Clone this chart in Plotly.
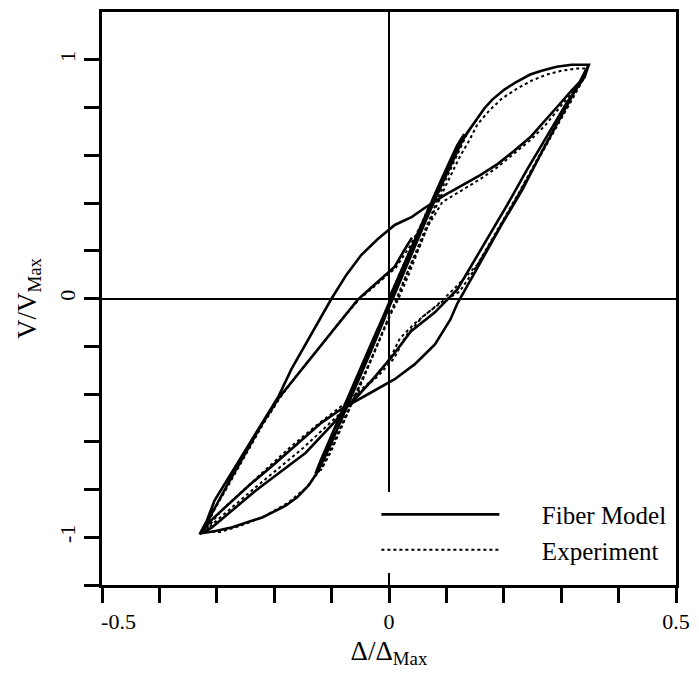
import plotly.graph_objects as go

# ---- Fiber model (solid): normalised displacement / normalised shear ----
# None separates two branches of the model record
model_x = [
    # small cycle, then loading to the positive peak
    0.000, 0.016, 0.042, 0.067, 0.093, 0.116, 0.131,
    0.119, 0.097, 0.071, 0.047, 0.024, 0.007, -0.010, -0.033, -0.057, -0.080, -0.100, -0.119, -0.128,
    -0.114, -0.093, -0.071, -0.048, -0.026, -0.003, 0.019, 0.043, 0.067, 0.090, 0.111, 0.128, 0.142,
    0.166, 0.180, 0.201, 0.220, 0.246, 0.266, 0.292, 0.318, 0.348,
    # unloading along right line, pinched branch, thin loop
    0.327, 0.301, 0.266, 0.232, 0.197, 0.163, 0.137, 0.119, 0.107, 0.080, 0.045, 0.010, -0.036, -0.083,
    -0.118, -0.157, -0.201, -0.244, -0.282, -0.310, -0.327,
    # bottom branch, steep reloading, upper branch
    -0.304, -0.273, -0.221, -0.180, -0.160, -0.140, -0.124, -0.104, -0.080, -0.057, -0.033, -0.010,
    0.010, 0.033, 0.055, 0.080, 0.102, 0.123, 0.142,
    0.166, 0.180, 0.201, 0.220, 0.246, 0.266, 0.292, 0.318, 0.348,
    # middle diagonal and rounded branch
    0.341, 0.318, 0.292, 0.266, 0.246, 0.215, 0.189, 0.159, 0.131, 0.097, 0.062, 0.040, 0.010,
    -0.019, -0.048, -0.074, -0.100, -0.123, -0.145, -0.170, -0.192, -0.235, -0.273, -0.304, -0.317, -0.330,
    # diagonal reloading
    -0.322, -0.306, -0.282, -0.253, -0.223, -0.192, -0.157, -0.123, -0.088, -0.054, -0.019, 0.010,
    0.026, 0.040, None,
    # second unloading
    0.341, 0.310, 0.275, 0.240, 0.206, 0.171, 0.140, 0.119, 0.102, 0.080, 0.038, 0.003, -0.028, -0.054,
    -0.083, -0.093, -0.145, -0.232, -0.308, -0.325,
]
model_y = [
    0.000, 0.088, 0.233, 0.371, 0.508, 0.621, 0.688,
    0.642, 0.529, 0.383, 0.246, 0.121, 0.021, -0.075, -0.200, -0.333, -0.458, -0.575, -0.679, -0.733,
    -0.671, -0.563, -0.438, -0.313, -0.188, -0.054, 0.071, 0.204, 0.342, 0.467, 0.579, 0.663, 0.713,
    0.796, 0.833, 0.875, 0.904, 0.938, 0.954, 0.971, 0.979, 0.979,
    0.883, 0.767, 0.613, 0.454, 0.313, 0.167, 0.058, -0.021, -0.088, -0.192, -0.275, -0.338, -0.400, -0.463,
    -0.521, -0.604, -0.696, -0.783, -0.867, -0.929, -0.983,
    -0.975, -0.958, -0.917, -0.868, -0.833, -0.783, -0.725, -0.625, -0.492, -0.367, -0.229, -0.096,
    0.029, 0.163, 0.296, 0.433, 0.550, 0.650, 0.713,
    0.796, 0.833, 0.875, 0.904, 0.938, 0.954, 0.971, 0.979, 0.979,
    0.929, 0.871, 0.800, 0.729, 0.675, 0.613, 0.563, 0.517, 0.479, 0.433, 0.379, 0.342, 0.308,
    0.250, 0.183, 0.100, 0.000, -0.096, -0.192, -0.296, -0.408, -0.575, -0.721, -0.846, -0.929, -0.988,
    -0.963, -0.888, -0.783, -0.658, -0.533, -0.417, -0.313, -0.208, -0.104, -0.004, 0.071, 0.133,
    0.200, 0.255, None,
    0.929, 0.821, 0.679, 0.538, 0.392, 0.250, 0.121, 0.038, -0.004, -0.058, -0.138, -0.250, -0.338, -0.408,
    -0.479, -0.513, -0.646, -0.804, -0.958, -0.983,
]

# ---- Experiment (dotted) ----
exp_x = [
    0.000, 0.019, 0.043, 0.067, 0.095, 0.119, 0.137,
    0.123, 0.100, 0.076, 0.052, 0.031, 0.016, -0.002, -0.024, -0.048, -0.071, -0.092, -0.109, -0.119,
    -0.102, -0.081, -0.059, -0.036, -0.014, 0.009, 0.029, 0.054, 0.078, 0.102, 0.123, 0.140,
    0.154, 0.175, 0.197, 0.223, 0.249, 0.275, 0.301, 0.327, 0.344,
    0.324, 0.296, 0.263, 0.227, 0.192, 0.168, 0.154, 0.114, 0.085, 0.045, 0.019, 0.002, -0.028, -0.071,
    -0.123, -0.175, -0.240, -0.292, -0.320,
    -0.296, -0.261, -0.218, -0.175, -0.144, -0.123, -0.100, -0.078, -0.054, -0.029, -0.005, 0.016,
    0.033, 0.050, 0.067, 0.093, 0.128, 0.159, 0.189, 0.215, 0.246, 0.272, 0.296, 0.322, 0.341,
    0.318, 0.284, 0.249, 0.215, 0.180, 0.149, 0.123, 0.093, 0.059, 0.029, 0.009, -0.019, -0.054, -0.088,
    -0.149, -0.235, -0.310, -0.323,
    -0.320, -0.303, -0.279, -0.249, -0.220, -0.189, -0.156, -0.121, -0.087, -0.052, -0.017, 0.012,
    0.036, 0.057,
]
exp_y = [
    0.000, 0.104, 0.238, 0.371, 0.508, 0.621, 0.696,
    0.621, 0.504, 0.363, 0.225, 0.104, 0.008, -0.096, -0.221, -0.354, -0.471, -0.583, -0.671, -0.721,
    -0.646, -0.533, -0.408, -0.283, -0.158, -0.025, 0.092, 0.225, 0.363, 0.488, 0.592, 0.663,
    0.729, 0.788, 0.838, 0.879, 0.913, 0.938, 0.954, 0.963, 0.963,
    0.871, 0.746, 0.604, 0.446, 0.300, 0.196, 0.142, 0.042, -0.025, -0.104, -0.167, -0.250, -0.338, -0.429,
    -0.525, -0.629, -0.771, -0.888, -0.971,
    -0.979, -0.954, -0.913, -0.854, -0.792, -0.729, -0.625, -0.504, -0.379, -0.242, -0.104, -0.004,
    0.092, 0.196, 0.300, 0.404, 0.454, 0.500, 0.550, 0.600, 0.663, 0.725, 0.796, 0.871, 0.929,
    0.829, 0.683, 0.538, 0.392, 0.246, 0.121, 0.029, -0.013, -0.075, -0.158, -0.250, -0.325, -0.400, -0.488,
    -0.625, -0.796, -0.950, -0.983,
    -0.963, -0.879, -0.779, -0.654, -0.529, -0.413, -0.308, -0.204, -0.100, -0.004, 0.067, 0.129,
    0.217, 0.313,
]

x_ticks = [-0.5, -0.4, -0.3, -0.2, -0.1, 0.0, 0.1, 0.2, 0.3, 0.4, 0.5]
x_labels = ["\u00a0\u00a0\u00a0\u00a0\u00a0\u00a0-0.5", "", "", "", "", "0", "", "", "", "", "0.5"]
y_ticks = [-1.2, -1.0, -0.8, -0.6, -0.4, -0.2, 0.0, 0.2, 0.4, 0.6, 0.8, 1.0]
y_labels = ["", "-1", "", "", "", "", "0", "", "", "", "", "1"]

FONT = "Liberation Serif, Times New Roman, serif"
PAD = "\u00a0" * 6

fig = go.Figure()
fig.add_trace(go.Scatter(x=model_x, y=model_y, mode="lines", name=PAD + "Fiber Model",
                         connectgaps=False, line=dict(color="black", width=2.6)))
fig.add_trace(go.Scatter(x=exp_x, y=exp_y, mode="lines", name=PAD + "Experiment",
                         line=dict(color="black", width=2.0, dash="dot")))

axis_common = dict(
    showline=True, linecolor="black", linewidth=2.5, mirror=True,
    ticks="outside", ticklen=15, tickwidth=2.5, tickcolor="black",
    showgrid=False, zeroline=True, zerolinecolor="black", zerolinewidth=2,
    tickfont=dict(family=FONT, size=22, color="black"),
)

fig.update_layout(
    width=699, height=692,
    margin=dict(l=102, r=19, t=9, b=107),
    paper_bgcolor="white", plot_bgcolor="white",
    font=dict(family=FONT, color="black"),
    xaxis=dict(range=[-0.5, 0.5], tickvals=x_ticks, ticktext=x_labels,
               title=dict(text="Δ/Δ<sub>Max</sub>", font=dict(family=FONT, size=27), standoff=8),
               **axis_common),
    yaxis=dict(range=[-1.2, 1.2], tickvals=y_ticks, ticktext=y_labels, tickangle=-90,
               title=dict(text="V/V<sub>Max</sub>", font=dict(family=FONT, size=27), standoff=12),
               **axis_common),
    legend=dict(x=0.478, y=0.163, xanchor="left", yanchor="top",
                bgcolor="white", borderwidth=0, itemwidth=118,
                font=dict(family=FONT, size=25, color="black"),
                tracegroupgap=0),
    showlegend=True,
)

fig.write_html("out.html")
